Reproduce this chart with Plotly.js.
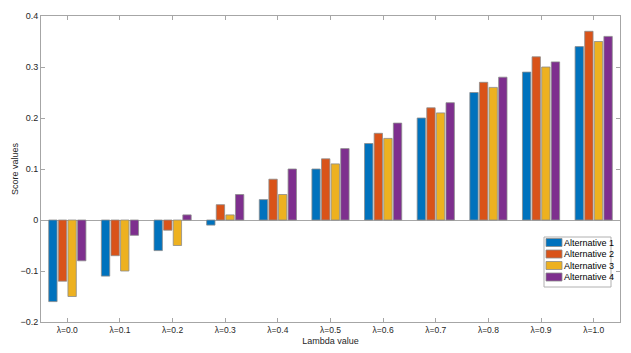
<!DOCTYPE html>
<html>
<head>
<meta charset="utf-8">
<script src="https://cdn.plot.ly/plotly-3.0.1.min.js"></script>
<style>
  html, body { margin: 0; padding: 0; background: #fff; }
  #chart { width: 631px; height: 353px; }
</style>
</head>
<body>
<div id="chart"></div>
<script>
const lambdas = ['λ=0.0', 'λ=0.1', 'λ=0.2', 'λ=0.3', 'λ=0.4', 'λ=0.5', 'λ=0.6', 'λ=0.7', 'λ=0.8', 'λ=0.9', 'λ=1.0'];
const alt1 = [-0.16, -0.11, -0.06, -0.01, 0.04, 0.10, 0.15, 0.20, 0.25, 0.29, 0.34];
const alt2 = [-0.12, -0.07, -0.02, 0.03, 0.08, 0.12, 0.17, 0.22, 0.27, 0.32, 0.37];
const alt3 = [-0.15, -0.10, -0.05, 0.01, 0.05, 0.11, 0.16, 0.21, 0.26, 0.30, 0.35];
const alt4 = [-0.08, -0.03, 0.01, 0.05, 0.10, 0.14, 0.19, 0.23, 0.28, 0.31, 0.36];
const names = ['Alternative 1', 'Alternative 2', 'Alternative 3', 'Alternative 4'];
const colors = ['#0072BD', '#D95319', '#EDB120', '#7E2F8E'];

const traces = [alt1, alt2, alt3, alt4].map((vals, i) => ({
    x: lambdas, y: vals, name: names[i], type: 'bar',
    marker: { color: colors[i], line: { color: '#8c8c8c', width: 0.8 } }
}));

// compact MATLAB-style legend (plotly's own legend rows are too tall)
// plot area is 579 x 306 px, so convert px offsets to paper fractions
const pw = 579, ph = 306;
const legX = 503 / pw, legW = 67 / pw;
const legTop = 85 / ph, rowH = 11.5 / ph, swH = 8 / ph;
const shapes = [{
    type: 'rect', xref: 'paper', yref: 'paper',
    x0: legX, x1: legX + legW, y0: legTop - 4 * rowH - 4 / ph, y1: legTop,
    line: { color: '#b0b0b0', width: 1 }, fillcolor: '#fff'
}];
const annotations = [];
names.forEach((n, i) => {
    const yc = legTop - (5.5 / ph) - i * rowH;
    shapes.push({
        type: 'rect', xref: 'paper', yref: 'paper',
        x0: legX + 2 / pw, x1: legX + 18 / pw, y0: yc - swH / 2, y1: yc + swH / 2,
        fillcolor: colors[i], line: { color: '#8c8c8c', width: 0.8 }
    });
    annotations.push({
        xref: 'paper', yref: 'paper', x: legX + 18 / pw, y: yc,
        xanchor: 'left', yanchor: 'middle', showarrow: false,
        text: n, font: { size: 9, color: '#000' }
    });
});

const axisColor = '#a6a6a6';
const layout = {
    width: 631, height: 353,
    paper_bgcolor: '#fff', plot_bgcolor: '#fff',
    margin: { l: 41, r: 11, t: 16, b: 31 },
    font: { family: 'Liberation Sans, Arial, sans-serif', size: 9, color: '#262626' },
    barmode: 'group', bargap: 0.27, bargroupgap: 0.13,
    showlegend: false,
    shapes: shapes,
    annotations: annotations,
    xaxis: {
        range: [-0.5, 10.5],
        showline: true, linecolor: axisColor, linewidth: 1, mirror: 'ticks',
        ticks: 'inside', ticklen: 4, tickcolor: axisColor,
        showgrid: false, zeroline: false,
        tickfont: { size: 8.5 },
        title: { text: 'Lambda value', font: { size: 9 }, standoff: 3 }
    },
    yaxis: {
        range: [-0.2, 0.4], dtick: 0.1, tick0: 0,
        showline: true, linecolor: axisColor, linewidth: 1, mirror: 'ticks',
        ticks: 'inside', ticklen: 4, tickcolor: axisColor,
        showgrid: false, zeroline: true, zerolinecolor: axisColor, zerolinewidth: 1,
        tickfont: { size: 9 },
        title: { text: 'Score values', font: { size: 9 }, standoff: 0 }
    }
};

Plotly.newPlot('chart', traces, layout, { displayModeBar: false, staticPlot: true });
</script>
</body>
</html>
